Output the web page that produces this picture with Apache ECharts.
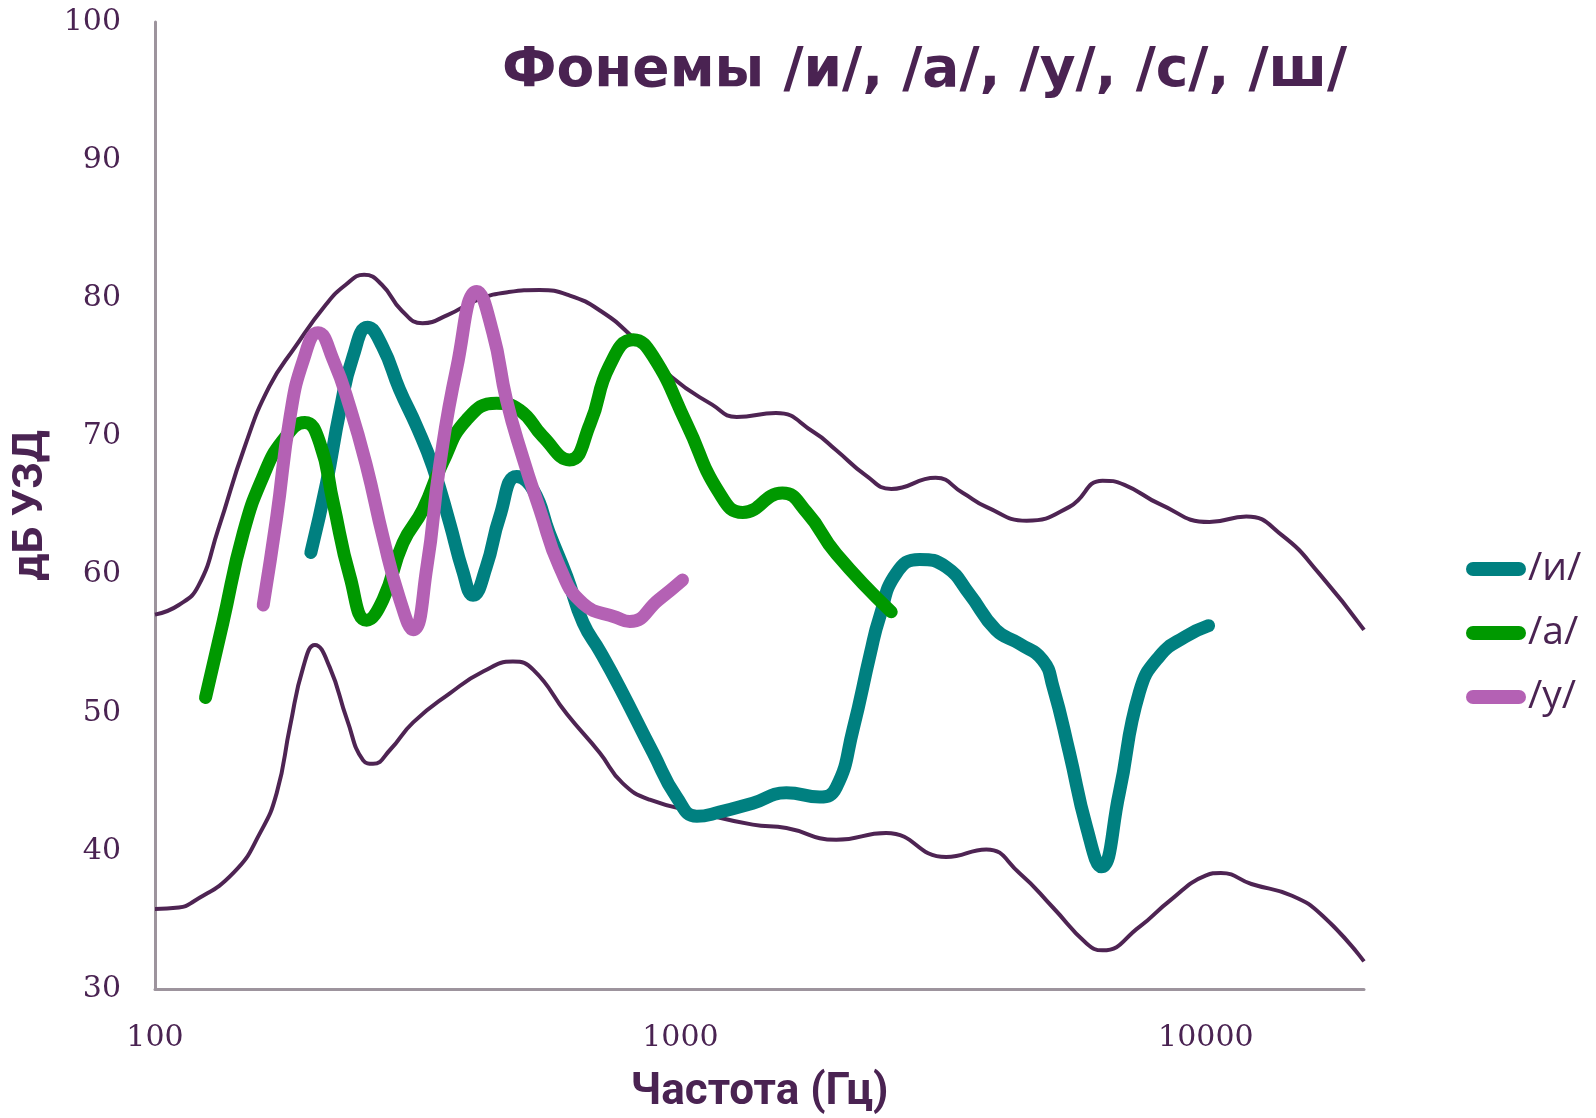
<!DOCTYPE html>
<html>
<head>
<meta charset="utf-8">
<script src="https://cdn.jsdelivr.net/npm/echarts@6/dist/echarts.min.js"></script>
<style>html,body{margin:0;padding:0;background:#fff}#c{width:1596px;height:1118px}</style>
</head>
<body>
<div id="c"></div>
<script>
// ---- data (frequency Hz, level dB) ----
const titleText = 'Фонемы /и/, /а/, /у/, /с/, /ш/';
const xName = 'Частота (Гц)';
const yName = 'дБ УЗД';
const seriesNames = ['/и/', '/а/', '/у/'];
const xTickLabels = [100, 1000, 10000];
const yTicks = [30, 40, 50, 60, 70, 80, 90, 100];

const upperEnvelope = [[100,57.1],[111,57.8],[121,59.2],[132,63.3],[148,69.2],[165,73.6],[185,76.5],[211,79.5],[231,81.0],[250,81.7],[270,81.0],[295,79.1],[323,78.2],[361,78.8],[412,79.9],[471,80.45],[539,80.6],[616,80.2],[704,79.1],[805,77.3],[962,74.3],[1149,72.3],[1280,71.4],[1520,71.7],[1795,70.3],[1980,69.0],[2250,67.2],[2520,66.2],[3060,67.0],[3450,65.9],[3820,64.9],[4560,63.9],[5500,64.9],[6360,66.8],[7000,66.5],[8176,65.1],[10160,63.8],[11940,64.2],[14010,62.8],[16500,60.0],[20000,56.0]];

const lowerEnvelope = [[100,35.8],[111,35.9],[118,36.3],[141,38.4],[158.5,41.3],[170.5,44.2],[180.7,49.0],[191.5,53.3],[201.5,54.9],[215,53.3],[232,49.5],[249,46.55],[260,46.3],[280,47.3],[310,49.3],[364,51.4],[422,53.0],[480,53.7],[525,53.1],[608,49.9],[702,47.1],[776,44.9],[874,43.7],[1104,42.7],[1373,41.9],[1591,41.65],[1980,40.8],[2463,41.3],[3205,39.55],[3821,40.1],[4416,38.4],[5117,35.9],[5930,33.3],[6360,32.8],[7475,34.5],[8544,36.4],[9987,38.2],[10680,38.4],[12210,37.6],[14590,36.75],[16680,35.3],[20000,32.0]];

const phonemeI = [[198,61.6],[212,66.6],[225,71.9],[238,75.75],[254,77.9],[271,76.5],[292,73.4],[315,70.7],[338,67.8],[364,63.7],[385,60.3],[403,58.5],[427,60.55],[453,64.2],[488,67.1],[525,66.1],[563,63.0],[608,59.85],[653,56.5],[704,54.4],[766,51.85],[887,47.1],[983,43.9],[1075,42.5],[1186,42.8],[1373,43.45],[1591,44.2],[1841,43.9],[1980,44.6],[2131,48.8],[2299,54.3],[2393,56.9],[2576,60.1],[2853,61.1],[3205,60.55],[3548,58.6],[3985,56.0],[4416,55.0],[4894,53.8],[5117,51.9],[5500,47.1],[5930,41.7],[6327,38.85],[6837,44.1],[7475,51.5],[8166,54.1],[9135,55.5],[10120,56.3]];

const phonemeA = [[124.8,51.1],[134.6,56.5],[147.2,63.0],[160.6,67.1],[175.1,69.7],[192.9,71.0],[206,69.5],[218.4,65.2],[235,59.85],[252.9,56.7],[271.7,58.2],[296.5,62.3],[323.5,64.7],[352.7,68.1],[391.7,71.2],[446.7,72.4],[494.9,71.9],[547,70.0],[615,68.3],[673,70.9],[732.5,75.1],[813,77.0],[887,75.8],[1028,70.9],[1186,65.9],[1314,64.5],[1563,65.9],[1740,64.5],[1980,61.5],[2519,57.3]];

const phonemeU = [[160.7,57.8],[170.5,64.2],[180.7,71.4],[191.5,75.5],[204.3,77.5],[218.6,75.5],[235,72.1],[252.9,67.8],[271.7,62.7],[292.4,58.2],[310,56.0],[329.2,60.55],[347.9,67.8],[375.4,75.0],[409.8,80.5],[439.6,77.5],[466.9,72.6],[501,68.5],[540,64.7],[589,60.55],[652.6,57.9],[755,56.9],[801,56.6],[911,58.2],[1009,59.6]];

// ---- styles ----
const TXT = '#4a2352';
const ENV = '#4e2453';
const COLORS = {'/и/':'#008080','/а/':'#009900','/у/':'#b461b4'};

const chart = echarts.init(document.getElementById('c'));
const envLine = (name, data) => ({
  name, type:'line', data, smooth:0.5, showSymbol:false, silent:true, z:1,
  lineStyle:{color:ENV, width:4}
});
const phLine = (name, data, z) => ({
  name, type:'line', data, smooth:0.5, showSymbol:false, z,
  itemStyle:{color:COLORS[name]},
  lineStyle:{color:COLORS[name], width:13, cap:'round', join:'round'}
});

chart.setOption({
  animation:false,
  backgroundColor:'#fff',
  title:{
    text:titleText, left:497, top:39,
    textStyle:{fontFamily:'DejaVu Sans', fontWeight:'bold', fontSize:55, color:TXT}
  },
  legend:{
    data:seriesNames, orient:'vertical', left:1461, top:544,
    itemWidth:60, itemHeight:14, itemGap:24,
    icon:'path://M7,0 L53,0 A7,7 0 0 1 53,14 L7,14 A7,7 0 0 1 7,0 Z',
    textStyle:{fontFamily:'Open Sans', fontSize:39, color:TXT, lineHeight:40, padding:[0,0,0,-3]}
  },
  grid:{left:155, right:232, top:22, bottom:129, containLabel:false, outerBoundsMode:'none'},
  xAxis:{
    type:'log', logBase:10, min:100, max:20000,
    name:xName, nameLocation:'middle', nameGap:82,
    nameTextStyle:{fontFamily:'Roboto', fontWeight:'bold', fontSize:44, color:TXT},
    axisLine:{show:true, lineStyle:{color:'#9d949d', width:3}},
    axisTick:{show:false}, splitLine:{show:false},
    axisLabel:{
      margin:34, fontFamily:'DejaVu Serif', fontSize:30, color:TXT, showMaxLabel:false,
      formatter:(v)=> xTickLabels.includes(Math.round(v)) ? String(Math.round(v)) : ''
    }
  },
  yAxis:{
    type:'value', min:yTicks[0], max:yTicks[yTicks.length-1], interval:10,
    name:yName, nameLocation:'middle', nameGap:93,
    nameTextStyle:{fontFamily:'Roboto', fontWeight:'bold', fontSize:43, color:TXT},
    axisLine:{show:true, lineStyle:{color:'#9d949d', width:3}},
    axisTick:{show:false}, splitLine:{show:false},
    axisLabel:{margin:34, fontFamily:'DejaVu Serif', fontSize:30, color:TXT}
  },
  series:[
    envLine('upper', upperEnvelope),
    envLine('lower', lowerEnvelope),
    phLine('/и/', phonemeI, 2),
    phLine('/а/', phonemeA, 3),
    phLine('/у/', phonemeU, 4)
  ]
});
</script>
</body>
</html>
